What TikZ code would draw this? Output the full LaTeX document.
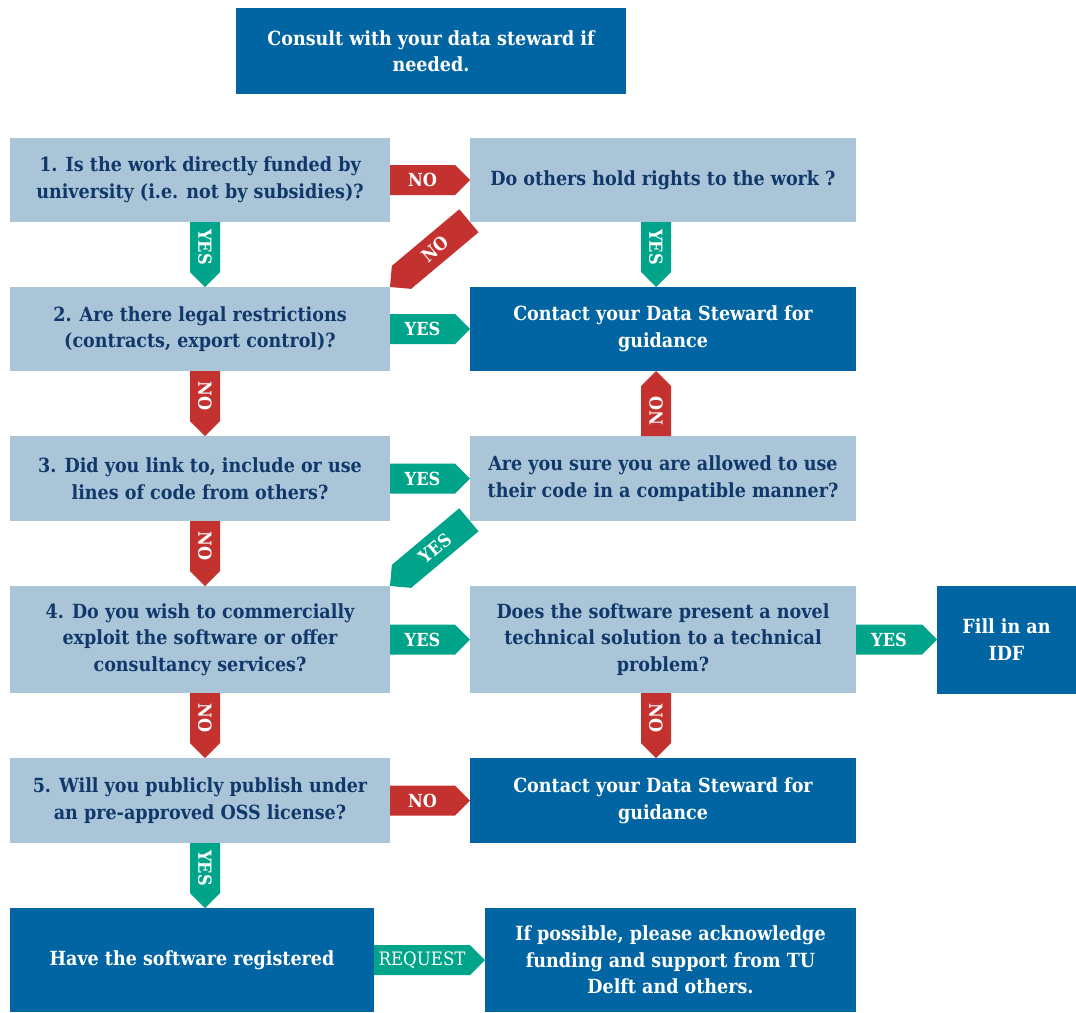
\documentclass[tikz,border=0pt]{standalone}
\usepackage{fontspec}
\setmainfont{DejaVu Serif Condensed}
\usepackage{tikz}
\usetikzlibrary{positioning,calc,shapes.symbols}

\definecolor{tudark}{RGB}{0,101,162}
\definecolor{qlight}{RGB}{170,197,216}
\definecolor{qnavy}{RGB}{16,56,106}
\definecolor{nored}{RGB}{195,50,47}
\definecolor{yesteal}{RGB}{0,164,138}

\tikzset{
	qbox/.style={fill=qlight, text=qnavy, align=center, inner sep=0pt, outer sep=0pt,
		minimum width=380pt, minimum height=85pt, font=\bfseries\fontsize{19.5}{26.5}\selectfont},
	abox/.style={qbox, fill=tudark, text=white},
	rcol/.style={minimum width=386pt},
	answer/.style={signal, signal to=east, signal pointer angle=90, text=white,
		inner sep=2pt, outer sep=0pt, minimum height=30pt, font=\bfseries\fontsize{18}{20}\selectfont},
	yestag/.style={answer, fill=yesteal},
	notag/.style={answer, fill=nored},
}

\begin{document}
\begin{tikzpicture}[x=1pt,y=-1pt]
	\useasboundingbox (0,0) rectangle (1076,1012);
	
	% start
	\node[abox, minimum width=390pt, minimum height=86pt] (consult) at (431,51) {Consult with your data steward if\\needed.};
	
	% questions, left column
	\node[qbox, minimum height=84pt] (q1) at (200,180) {1. Is the work directly funded by\\university (i.e. not by subsidies)?};
	\node[qbox, minimum height=84pt, below=65pt of q1] (q2) {2. Are there legal restrictions\\(contracts, export control)?};
	\node[qbox, below=65pt of q2] (q3) {3. Did you link to, include or use\\lines of code from others?};
	\node[qbox, minimum height=107pt, below=65pt of q3] (q4) {4. Do you wish to commercially\\exploit the software or offer\\consultancy services?};
	\node[qbox, below=65pt of q4] (q5) {5. Will you publicly publish under\\an pre-approved OSS license?};
	\node[abox, minimum width=364pt, minimum height=104pt, below=65pt of q5.south west, anchor=north west] (reg) {Have the software registered};
	
	% right column
	\node[qbox, rcol, minimum height=84pt, right=80pt of q1] (r1) {Do others hold rights to the work ?};
	\node[abox, rcol, minimum height=84pt, right=80pt of q2] (r2) {Contact your Data Steward for\\guidance};
	\node[qbox, rcol, right=80pt of q3] (r3) {Are you sure you are allowed to use\\their code in a compatible manner?};
	\node[qbox, rcol, minimum height=107pt, right=80pt of q4] (r4) {Does the software present a novel\\technical solution to a technical\\problem?};
	\node[abox, rcol, right=80pt of q5] (r5) {Contact your Data Steward for\\guidance};
	\node[abox, minimum width=371pt, minimum height=104pt, right=111pt of reg] (ack) {If possible, please acknowledge\\funding and support from TU\\Delft and others.};
	\node[abox, minimum width=139pt, minimum height=108pt, right=81pt of r4] (idf) {Fill in an\\IDF};
	
	% horizontal answers
	\node[notag, minimum width=80pt, right=0pt of q1] (q1no) {NO};
	\node[yestag, minimum width=80pt, right=0pt of q2] (q2yes) {YES};
	\node[yestag, minimum width=80pt, right=0pt of q3] (q3yes) {YES};
	\node[yestag, minimum width=80pt, right=0pt of q4] (q4yes) {YES};
	\node[yestag, minimum width=81pt, right=0pt of r4] (r4yes) {YES};
	\node[notag, minimum width=80pt, right=0pt of q5] (q5no) {NO};
	\node[yestag, minimum width=111pt, font=\fontsize{18.5}{20}\selectfont, right=0pt of reg] (regreq) {REQUEST};
	
	% vertical answers
	\node[yestag, rotate=-90, minimum width=65pt, anchor=west] (q1yes) at ($(q1.south)+(5,0)$) {YES};
	\node[notag, rotate=-90, minimum width=65pt, anchor=west] (q2no) at ($(q2.south)+(5,0)$) {NO};
	\node[notag, rotate=-90, minimum width=65pt, anchor=west] (q3no) at ($(q3.south)+(5,0)$) {NO};
	\node[notag, rotate=-90, minimum width=65pt, anchor=west] (q4no) at ($(q4.south)+(5,0)$) {NO};
	\node[yestag, rotate=-90, minimum width=65pt, anchor=west] (q5yes) at ($(q5.south)+(5,0)$) {YES};
	\node[yestag, rotate=-90, minimum width=65pt, anchor=west] (r1yes) at ($(r1.south)+(-7,0)$) {YES};
	\node[notag, rotate=90, minimum width=65pt, anchor=west] (r3no) at ($(r3.north)+(-7,0)$) {NO};
	\node[notag, rotate=-90, minimum width=65pt, anchor=west] (r4no) at ($(r4.south)+(-7,0)$) {NO};
	
	% diagonal answers back to the left column
	\node[notag, signal to=west, rotate=40, minimum width=103pt, anchor=west] (r1no) at (q2.north east) {NO};
	\node[yestag, signal to=west, rotate=40, minimum width=103pt, anchor=west] (r3yes) at (q4.north east) {YES};
\end{tikzpicture}
\end{document}
